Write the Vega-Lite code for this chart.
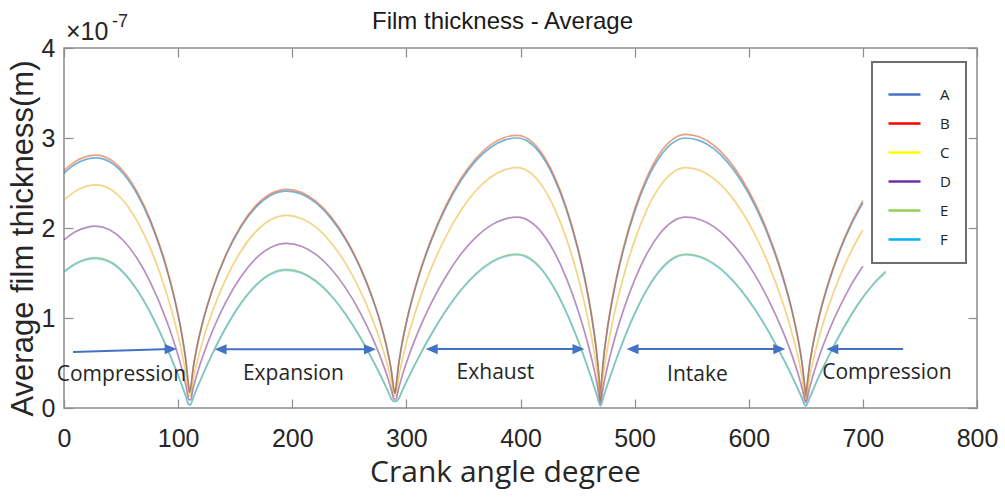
{
  "$schema": "https://vega.github.io/schema/vega-lite/v6.json",
  "width": 913,
  "height": 360,
  "autosize": {"type": "none"},
  "padding": {"left": 64, "top": 48, "right": 28, "bottom": 89},
  "background": "white",
  "config": {"view": {"stroke": "#8c8c8c", "strokeWidth": 1.5}},
  "title": {"text": "Film thickness - Average", "font": "Liberation Sans", "fontSize": 24, "fontWeight": "normal", "color": "#1a1a1a", "anchor": "middle", "frame": "group", "offset": 15, "dx": -18, "dy": 36},
  "datasets": {
    "curves": [
      {"a":0,"s":"A","v":2.611},{"a":10,"s":"A","v":2.711},{"a":20,"s":"A","v":2.766},{"a":28,"s":"A","v":2.78},{"a":40,"s":"A","v":2.736},{"a":52,"s":"A","v":2.603},{"a":64,"s":"A","v":2.379},{"a":76,"s":"A","v":2.059},{"a":90,"s":"A","v":1.541},{"a":98,"s":"A","v":1.145},{"a":104,"s":"A","v":0.758},{"a":107,"s":"A","v":0.5},{"a":109,"s":"A","v":0.259},{"a":110,"s":"A","v":0.17},{"a":111,"s":"A","v":0.22},{"a":113,"s":"A","v":0.425},{"a":116,"s":"A","v":0.643},{"a":122,"s":"A","v":0.972},{"a":130,"s":"A","v":1.308},{"a":142,"s":"A","v":1.697},{"a":155,"s":"A","v":2.01},{"a":168,"s":"A","v":2.229},{"a":181,"s":"A","v":2.362},{"a":195,"s":"A","v":2.41},{"a":208,"s":"A","v":2.377},{"a":221,"s":"A","v":2.276},{"a":234,"s":"A","v":2.107},{"a":247,"s":"A","v":1.866},{"a":260,"s":"A","v":1.544},{"a":270,"s":"A","v":1.227},{"a":278,"s":"A","v":0.91},{"a":284,"s":"A","v":0.602},{"a":287,"s":"A","v":0.397},{"a":289,"s":"A","v":0.206},{"a":290,"s":"A","v":0.16},{"a":291,"s":"A","v":0.239},{"a":293,"s":"A","v":0.461},{"a":296,"s":"A","v":0.698},{"a":302,"s":"A","v":1.055},{"a":310,"s":"A","v":1.426},{"a":322,"s":"A","v":1.865},{"a":335,"s":"A","v":2.238},{"a":348,"s":"A","v":2.529},{"a":361,"s":"A","v":2.748},{"a":374,"s":"A","v":2.897},{"a":386,"s":"A","v":2.977},{"a":397,"s":"A","v":3.0},{"a":408,"s":"A","v":2.95},{"a":419,"s":"A","v":2.798},{"a":430,"s":"A","v":2.541},{"a":440,"s":"A","v":2.212},{"a":450,"s":"A","v":1.775},{"a":458,"s":"A","v":1.322},{"a":464,"s":"A","v":0.877},{"a":467,"s":"A","v":0.579},{"a":469,"s":"A","v":0.3},{"a":470,"s":"A","v":0.1},{"a":471,"s":"A","v":0.295},{"a":473,"s":"A","v":0.57},{"a":476,"s":"A","v":0.863},{"a":482,"s":"A","v":1.302},{"a":490,"s":"A","v":1.748},{"a":500,"s":"A","v":2.181},{"a":511,"s":"A","v":2.539},{"a":522,"s":"A","v":2.79},{"a":533,"s":"A","v":2.943},{"a":545,"s":"A","v":3.0},{"a":557,"s":"A","v":2.971},{"a":569,"s":"A","v":2.884},{"a":581,"s":"A","v":2.738},{"a":593,"s":"A","v":2.531},{"a":605,"s":"A","v":2.26},{"a":617,"s":"A","v":1.917},{"a":630,"s":"A","v":1.441},{"a":638,"s":"A","v":1.067},{"a":644,"s":"A","v":0.706},{"a":647,"s":"A","v":0.466},{"a":649,"s":"A","v":0.241},{"a":650,"s":"A","v":0.12},{"a":651,"s":"A","v":0.233},{"a":653,"s":"A","v":0.45},{"a":656,"s":"A","v":0.681},{"a":662,"s":"A","v":1.03},{"a":670,"s":"A","v":1.39},{"a":680,"s":"A","v":1.75},{"a":690,"s":"A","v":2.042},{"a":700,"s":"A","v":2.28},
      {"a":0,"s":"B","v":2.64},{"a":10,"s":"B","v":2.74},{"a":20,"s":"B","v":2.796},{"a":28,"s":"B","v":2.81},{"a":40,"s":"B","v":2.765},{"a":52,"s":"B","v":2.631},{"a":64,"s":"B","v":2.405},{"a":76,"s":"B","v":2.081},{"a":90,"s":"B","v":1.557},{"a":98,"s":"B","v":1.157},{"a":104,"s":"B","v":0.766},{"a":107,"s":"B","v":0.506},{"a":109,"s":"B","v":0.262},{"a":110,"s":"B","v":0.18},{"a":111,"s":"B","v":0.222},{"a":113,"s":"B","v":0.428},{"a":116,"s":"B","v":0.649},{"a":122,"s":"B","v":0.98},{"a":130,"s":"B","v":1.319},{"a":142,"s":"B","v":1.711},{"a":155,"s":"B","v":2.027},{"a":168,"s":"B","v":2.248},{"a":181,"s":"B","v":2.381},{"a":195,"s":"B","v":2.43},{"a":208,"s":"B","v":2.396},{"a":221,"s":"B","v":2.295},{"a":234,"s":"B","v":2.124},{"a":247,"s":"B","v":1.881},{"a":260,"s":"B","v":1.556},{"a":270,"s":"B","v":1.237},{"a":278,"s":"B","v":0.917},{"a":284,"s":"B","v":0.607},{"a":287,"s":"B","v":0.401},{"a":289,"s":"B","v":0.207},{"a":290,"s":"B","v":0.17},{"a":291,"s":"B","v":0.241},{"a":293,"s":"B","v":0.465},{"a":296,"s":"B","v":0.705},{"a":302,"s":"B","v":1.066},{"a":310,"s":"B","v":1.44},{"a":322,"s":"B","v":1.883},{"a":335,"s":"B","v":2.26},{"a":348,"s":"B","v":2.555},{"a":361,"s":"B","v":2.775},{"a":374,"s":"B","v":2.926},{"a":386,"s":"B","v":3.006},{"a":397,"s":"B","v":3.03},{"a":408,"s":"B","v":2.979},{"a":419,"s":"B","v":2.825},{"a":430,"s":"B","v":2.566},{"a":440,"s":"B","v":2.234},{"a":450,"s":"B","v":1.793},{"a":458,"s":"B","v":1.336},{"a":464,"s":"B","v":0.885},{"a":467,"s":"B","v":0.585},{"a":469,"s":"B","v":0.303},{"a":470,"s":"B","v":0.11},{"a":471,"s":"B","v":0.299},{"a":473,"s":"B","v":0.578},{"a":476,"s":"B","v":0.874},{"a":482,"s":"B","v":1.319},{"a":490,"s":"B","v":1.772},{"a":500,"s":"B","v":2.21},{"a":511,"s":"B","v":2.572},{"a":522,"s":"B","v":2.828},{"a":533,"s":"B","v":2.982},{"a":545,"s":"B","v":3.04},{"a":557,"s":"B","v":3.011},{"a":569,"s":"B","v":2.922},{"a":581,"s":"B","v":2.774},{"a":593,"s":"B","v":2.564},{"a":605,"s":"B","v":2.29},{"a":617,"s":"B","v":1.942},{"a":630,"s":"B","v":1.46},{"a":638,"s":"B","v":1.081},{"a":644,"s":"B","v":0.715},{"a":647,"s":"B","v":0.472},{"a":649,"s":"B","v":0.244},{"a":650,"s":"B","v":0.13},{"a":651,"s":"B","v":0.235},{"a":653,"s":"B","v":0.455},{"a":656,"s":"B","v":0.689},{"a":662,"s":"B","v":1.041},{"a":670,"s":"B","v":1.405},{"a":680,"s":"B","v":1.769},{"a":690,"s":"B","v":2.064},{"a":700,"s":"B","v":2.304},
      {"a":0,"s":"C","v":2.31},{"a":10,"s":"C","v":2.41},{"a":20,"s":"C","v":2.466},{"a":28,"s":"C","v":2.48},{"a":40,"s":"C","v":2.435},{"a":52,"s":"C","v":2.302},{"a":64,"s":"C","v":2.079},{"a":76,"s":"C","v":1.765},{"a":90,"s":"C","v":1.27},{"a":98,"s":"C","v":0.907},{"a":104,"s":"C","v":0.569},{"a":107,"s":"C","v":0.355},{"a":109,"s":"C","v":0.168},{"a":110,"s":"C","v":0.13},{"a":111,"s":"C","v":0.142},{"a":113,"s":"C","v":0.299},{"a":116,"s":"C","v":0.479},{"a":122,"s":"C","v":0.764},{"a":130,"s":"C","v":1.071},{"a":142,"s":"C","v":1.438},{"a":155,"s":"C","v":1.742},{"a":168,"s":"C","v":1.959},{"a":181,"s":"C","v":2.091},{"a":195,"s":"C","v":2.14},{"a":208,"s":"C","v":2.106},{"a":221,"s":"C","v":2.006},{"a":234,"s":"C","v":1.837},{"a":247,"s":"C","v":1.601},{"a":260,"s":"C","v":1.291},{"a":270,"s":"C","v":0.996},{"a":278,"s":"C","v":0.709},{"a":284,"s":"C","v":0.444},{"a":287,"s":"C","v":0.278},{"a":289,"s":"C","v":0.131},{"a":290,"s":"C","v":0.13},{"a":291,"s":"C","v":0.151},{"a":293,"s":"C","v":0.319},{"a":296,"s":"C","v":0.511},{"a":302,"s":"C","v":0.817},{"a":310,"s":"C","v":1.149},{"a":322,"s":"C","v":1.558},{"a":335,"s":"C","v":1.915},{"a":348,"s":"C","v":2.2},{"a":361,"s":"C","v":2.417},{"a":374,"s":"C","v":2.566},{"a":386,"s":"C","v":2.646},{"a":397,"s":"C","v":2.67},{"a":408,"s":"C","v":2.619},{"a":419,"s":"C","v":2.467},{"a":430,"s":"C","v":2.212},{"a":440,"s":"C","v":1.89},{"a":450,"s":"C","v":1.473},{"a":458,"s":"C","v":1.055},{"a":464,"s":"C","v":0.662},{"a":467,"s":"C","v":0.414},{"a":469,"s":"C","v":0.196},{"a":470,"s":"C","v":0.07},{"a":471,"s":"C","v":0.193},{"a":473,"s":"C","v":0.407},{"a":476,"s":"C","v":0.65},{"a":482,"s":"C","v":1.036},{"a":490,"s":"C","v":1.448},{"a":500,"s":"C","v":1.86},{"a":511,"s":"C","v":2.209},{"a":522,"s":"C","v":2.46},{"a":533,"s":"C","v":2.613},{"a":545,"s":"C","v":2.67},{"a":557,"s":"C","v":2.641},{"a":569,"s":"C","v":2.553},{"a":581,"s":"C","v":2.407},{"a":593,"s":"C","v":2.202},{"a":605,"s":"C","v":1.937},{"a":617,"s":"C","v":1.607},{"a":630,"s":"C","v":1.163},{"a":638,"s":"C","v":0.827},{"a":644,"s":"C","v":0.518},{"a":647,"s":"C","v":0.324},{"a":649,"s":"C","v":0.153},{"a":650,"s":"C","v":0.08},{"a":651,"s":"C","v":0.149},{"a":653,"s":"C","v":0.315},{"a":656,"s":"C","v":0.504},{"a":662,"s":"C","v":0.805},{"a":670,"s":"C","v":1.131},{"a":680,"s":"C","v":1.468},{"a":690,"s":"C","v":1.748},{"a":700,"s":"C","v":1.981},
      {"a":0,"s":"D","v":1.868},{"a":10,"s":"D","v":1.957},{"a":20,"s":"D","v":2.007},{"a":28,"s":"D","v":2.02},{"a":40,"s":"D","v":1.98},{"a":52,"s":"D","v":1.861},{"a":64,"s":"D","v":1.663},{"a":76,"s":"D","v":1.388},{"a":90,"s":"D","v":0.966},{"a":98,"s":"D","v":0.666},{"a":104,"s":"D","v":0.398},{"a":107,"s":"D","v":0.237},{"a":109,"s":"D","v":0.104},{"a":110,"s":"D","v":0.09},{"a":111,"s":"D","v":0.092},{"a":113,"s":"D","v":0.209},{"a":116,"s":"D","v":0.351},{"a":122,"s":"D","v":0.588},{"a":130,"s":"D","v":0.853},{"a":142,"s":"D","v":1.181},{"a":155,"s":"D","v":1.459},{"a":168,"s":"D","v":1.66},{"a":181,"s":"D","v":1.784},{"a":195,"s":"D","v":1.83},{"a":208,"s":"D","v":1.798},{"a":221,"s":"D","v":1.704},{"a":234,"s":"D","v":1.547},{"a":247,"s":"D","v":1.329},{"a":260,"s":"D","v":1.049},{"a":270,"s":"D","v":0.787},{"a":278,"s":"D","v":0.541},{"a":284,"s":"D","v":0.323},{"a":287,"s":"D","v":0.192},{"a":289,"s":"D","v":0.1},{"a":290,"s":"D","v":0.1},{"a":291,"s":"D","v":0.1},{"a":293,"s":"D","v":0.204},{"a":296,"s":"D","v":0.343},{"a":302,"s":"D","v":0.574},{"a":310,"s":"D","v":0.837},{"a":322,"s":"D","v":1.17},{"a":335,"s":"D","v":1.47},{"a":348,"s":"D","v":1.713},{"a":361,"s":"D","v":1.899},{"a":374,"s":"D","v":2.029},{"a":386,"s":"D","v":2.099},{"a":397,"s":"D","v":2.12},{"a":408,"s":"D","v":2.075},{"a":419,"s":"D","v":1.943},{"a":430,"s":"D","v":1.723},{"a":440,"s":"D","v":1.448},{"a":450,"s":"D","v":1.1},{"a":458,"s":"D","v":0.762},{"a":464,"s":"D","v":0.456},{"a":467,"s":"D","v":0.271},{"a":469,"s":"D","v":0.119},{"a":470,"s":"D","v":0.05},{"a":471,"s":"D","v":0.117},{"a":473,"s":"D","v":0.266},{"a":476,"s":"D","v":0.446},{"a":482,"s":"D","v":0.747},{"a":490,"s":"D","v":1.08},{"a":500,"s":"D","v":1.423},{"a":511,"s":"D","v":1.721},{"a":522,"s":"D","v":1.936},{"a":533,"s":"D","v":2.07},{"a":545,"s":"D","v":2.12},{"a":557,"s":"D","v":2.094},{"a":569,"s":"D","v":2.018},{"a":581,"s":"D","v":1.891},{"a":593,"s":"D","v":1.714},{"a":605,"s":"D","v":1.488},{"a":617,"s":"D","v":1.211},{"a":630,"s":"D","v":0.848},{"a":638,"s":"D","v":0.582},{"a":644,"s":"D","v":0.347},{"a":647,"s":"D","v":0.207},{"a":649,"s":"D","v":0.091},{"a":650,"s":"D","v":0.06},{"a":651,"s":"D","v":0.091},{"a":653,"s":"D","v":0.207},{"a":656,"s":"D","v":0.348},{"a":662,"s":"D","v":0.584},{"a":670,"s":"D","v":0.85},{"a":680,"s":"D","v":1.133},{"a":690,"s":"D","v":1.374},{"a":700,"s":"D","v":1.576},
      {"a":0,"s":"E","v":1.517},{"a":10,"s":"E","v":1.606},{"a":20,"s":"E","v":1.657},{"a":28,"s":"E","v":1.67},{"a":40,"s":"E","v":1.63},{"a":52,"s":"E","v":1.51},{"a":64,"s":"E","v":1.315},{"a":76,"s":"E","v":1.054},{"a":90,"s":"E","v":0.676},{"a":98,"s":"E","v":0.428},{"a":104,"s":"E","v":0.228},{"a":107,"s":"E","v":0.12},{"a":109,"s":"E","v":0.044},{"a":110,"s":"E","v":0.04},{"a":111,"s":"E","v":0.04},{"a":113,"s":"E","v":0.107},{"a":116,"s":"E","v":0.203},{"a":122,"s":"E","v":0.383},{"a":130,"s":"E","v":0.604},{"a":142,"s":"E","v":0.9},{"a":155,"s":"E","v":1.166},{"a":168,"s":"E","v":1.366},{"a":181,"s":"E","v":1.493},{"a":195,"s":"E","v":1.54},{"a":208,"s":"E","v":1.507},{"a":221,"s":"E","v":1.411},{"a":234,"s":"E","v":1.253},{"a":247,"s":"E","v":1.04},{"a":260,"s":"E","v":0.778},{"a":270,"s":"E","v":0.547},{"a":278,"s":"E","v":0.346},{"a":284,"s":"E","v":0.183},{"a":287,"s":"E","v":0.097},{"a":289,"s":"E","v":0.08},{"a":290,"s":"E","v":0.08},{"a":291,"s":"E","v":0.08},{"a":293,"s":"E","v":0.097},{"a":296,"s":"E","v":0.183},{"a":302,"s":"E","v":0.344},{"a":310,"s":"E","v":0.547},{"a":322,"s":"E","v":0.825},{"a":335,"s":"E","v":1.091},{"a":348,"s":"E","v":1.316},{"a":361,"s":"E","v":1.494},{"a":374,"s":"E","v":1.621},{"a":386,"s":"E","v":1.689},{"a":397,"s":"E","v":1.71},{"a":408,"s":"E","v":1.666},{"a":419,"s":"E","v":1.536},{"a":430,"s":"E","v":1.325},{"a":440,"s":"E","v":1.071},{"a":450,"s":"E","v":0.765},{"a":458,"s":"E","v":0.487},{"a":464,"s":"E","v":0.259},{"a":467,"s":"E","v":0.137},{"a":469,"s":"E","v":0.05},{"a":470,"s":"E","v":0.03},{"a":471,"s":"E","v":0.049},{"a":473,"s":"E","v":0.134},{"a":476,"s":"E","v":0.253},{"a":482,"s":"E","v":0.475},{"a":490,"s":"E","v":0.747},{"a":500,"s":"E","v":1.049},{"a":511,"s":"E","v":1.324},{"a":522,"s":"E","v":1.53},{"a":533,"s":"E","v":1.661},{"a":545,"s":"E","v":1.71},{"a":557,"s":"E","v":1.685},{"a":569,"s":"E","v":1.61},{"a":581,"s":"E","v":1.486},{"a":593,"s":"E","v":1.317},{"a":605,"s":"E","v":1.107},{"a":617,"s":"E","v":0.86},{"a":630,"s":"E","v":0.556},{"a":638,"s":"E","v":0.351},{"a":644,"s":"E","v":0.186},{"a":647,"s":"E","v":0.098},{"a":649,"s":"E","v":0.036},{"a":650,"s":"E","v":0.03},{"a":651,"s":"E","v":0.037},{"a":653,"s":"E","v":0.102},{"a":656,"s":"E","v":0.193},{"a":662,"s":"E","v":0.365},{"a":670,"s":"E","v":0.577},{"a":680,"s":"E","v":0.821},{"a":690,"s":"E","v":1.041},{"a":700,"s":"E","v":1.232},{"a":710,"s":"E","v":1.392},{"a":720,"s":"E","v":1.517},
      {"a":0,"s":"F","v":1.508},{"a":10,"s":"F","v":1.597},{"a":20,"s":"F","v":1.648},{"a":28,"s":"F","v":1.66},{"a":40,"s":"F","v":1.62},{"a":52,"s":"F","v":1.501},{"a":64,"s":"F","v":1.308},{"a":76,"s":"F","v":1.047},{"a":90,"s":"F","v":0.671},{"a":98,"s":"F","v":0.426},{"a":104,"s":"F","v":0.226},{"a":107,"s":"F","v":0.12},{"a":109,"s":"F","v":0.044},{"a":110,"s":"F","v":0.03},{"a":111,"s":"F","v":0.039},{"a":113,"s":"F","v":0.107},{"a":116,"s":"F","v":0.202},{"a":122,"s":"F","v":0.38},{"a":130,"s":"F","v":0.6},{"a":142,"s":"F","v":0.894},{"a":155,"s":"F","v":1.158},{"a":168,"s":"F","v":1.358},{"a":181,"s":"F","v":1.483},{"a":195,"s":"F","v":1.53},{"a":208,"s":"F","v":1.498},{"a":221,"s":"F","v":1.401},{"a":234,"s":"F","v":1.245},{"a":247,"s":"F","v":1.033},{"a":260,"s":"F","v":0.773},{"a":270,"s":"F","v":0.544},{"a":278,"s":"F","v":0.343},{"a":284,"s":"F","v":0.182},{"a":287,"s":"F","v":0.097},{"a":289,"s":"F","v":0.07},{"a":290,"s":"F","v":0.07},{"a":291,"s":"F","v":0.07},{"a":293,"s":"F","v":0.096},{"a":296,"s":"F","v":0.182},{"a":302,"s":"F","v":0.342},{"a":310,"s":"F","v":0.543},{"a":322,"s":"F","v":0.82},{"a":335,"s":"F","v":1.085},{"a":348,"s":"F","v":1.308},{"a":361,"s":"F","v":1.486},{"a":374,"s":"F","v":1.611},{"a":386,"s":"F","v":1.68},{"a":397,"s":"F","v":1.7},{"a":408,"s":"F","v":1.656},{"a":419,"s":"F","v":1.527},{"a":430,"s":"F","v":1.318},{"a":440,"s":"F","v":1.065},{"a":450,"s":"F","v":0.761},{"a":458,"s":"F","v":0.484},{"a":464,"s":"F","v":0.258},{"a":467,"s":"F","v":0.137},{"a":469,"s":"F","v":0.05},{"a":470,"s":"F","v":0.02},{"a":471,"s":"F","v":0.048},{"a":473,"s":"F","v":0.133},{"a":476,"s":"F","v":0.252},{"a":482,"s":"F","v":0.473},{"a":490,"s":"F","v":0.743},{"a":500,"s":"F","v":1.043},{"a":511,"s":"F","v":1.316},{"a":522,"s":"F","v":1.521},{"a":533,"s":"F","v":1.651},{"a":545,"s":"F","v":1.7},{"a":557,"s":"F","v":1.675},{"a":569,"s":"F","v":1.6},{"a":581,"s":"F","v":1.477},{"a":593,"s":"F","v":1.31},{"a":605,"s":"F","v":1.101},{"a":617,"s":"F","v":0.855},{"a":630,"s":"F","v":0.552},{"a":638,"s":"F","v":0.349},{"a":644,"s":"F","v":0.185},{"a":647,"s":"F","v":0.098},{"a":649,"s":"F","v":0.036},{"a":650,"s":"F","v":0.02},{"a":651,"s":"F","v":0.037},{"a":653,"s":"F","v":0.102},{"a":656,"s":"F","v":0.192},{"a":662,"s":"F","v":0.362},{"a":670,"s":"F","v":0.574},{"a":680,"s":"F","v":0.817},{"a":690,"s":"F","v":1.034},{"a":700,"s":"F","v":1.225},{"a":710,"s":"F","v":1.383},{"a":720,"s":"F","v":1.508}
    ],
    "arrows": [
      {"x":7.9,"y":0.622,"x2":93.5,"y2":0.655},
      {"x":137.2,"y":0.652,"x2":268.1,"y2":0.652},
      {"x":322.2,"y":0.655,"x2":450.8,"y2":0.655},
      {"x":498.2,"y":0.655,"x2":626.8,"y2":0.655},
      {"x":673.2,"y":0.655,"x2":735.3,"y2":0.655}
    ],
    "heads": [
      {"x":93.5,"y":0.655,"dir":"right"},
      {"x":137.2,"y":0.652,"dir":"left"},
      {"x":268.1,"y":0.652,"dir":"right"},
      {"x":322.2,"y":0.655,"dir":"left"},
      {"x":450.8,"y":0.655,"dir":"right"},
      {"x":498.2,"y":0.655,"dir":"left"},
      {"x":626.8,"y":0.655,"dir":"right"},
      {"x":673.2,"y":0.655,"dir":"left"}
    ],
    "strokes": [
      {"x":50.3,"y":0.30,"t":"Compression"},
      {"x":201,"y":0.31,"t":"Expansion"},
      {"x":378,"y":0.32,"t":"Exhaust"},
      {"x":555,"y":0.30,"t":"Intake"},
      {"x":721,"y":0.32,"t":"Compression"}
    ]
  },
  "layer": [
    {
      "data": {"name": "curves"},
      "mark": {"type": "line", "interpolate": "monotone", "strokeWidth": 1.7, "strokeOpacity": 0.55},
      "encoding": {
        "x": {"field": "a", "type": "quantitative", "scale": {"domain": [0, 800], "nice": false},
          "axis": {"orient": "bottom", "values": [0,100,200,300,400,500,600,700,800], "domain": false, "grid": false, "tickSize": -9, "tickColor": "#8c8c8c", "tickWidth": 1.2, "labelFont": "Liberation Sans", "labelFontSize": 25, "labelColor": "#262626", "labelPadding": 27, "labelFlush": false, "labelOverlap": false,
            "title": "Crank angle degree", "titleFont": "Open Sans", "titleFontSize": 30, "titleFontWeight": "normal", "titleColor": "#262626", "titleX": 441, "titleY": 73, "titleAlign": "center", "titleBaseline": "alphabetic"}},
        "y": {"field": "v", "type": "quantitative", "scale": {"domain": [0, 4], "nice": false},
          "axis": {"orient": "left", "values": [0,1,2,3,4], "domain": false, "grid": false, "tickSize": -9, "tickColor": "#8c8c8c", "tickWidth": 1.2, "labelFont": "Liberation Sans", "labelFontSize": 25, "labelColor": "#262626", "labelPadding": 18, "labelFlush": false,
            "title": "Average film thickness(m)", "titleFont": "Liberation Sans", "titleFontSize": 31, "titleFontWeight": "normal", "titleColor": "#262626", "titleX": -32, "titleY": 190, "titleAngle": 270, "titleAlign": "center", "titleBaseline": "alphabetic"}},
        "color": {"field": "s", "type": "nominal",
          "scale": {"domain": ["A","B","C","D","E","F"], "range": ["#0072BD","#D95319","#EDB120","#7E2F8E","#77AC30","#4DBEEE"]},
          "legend": null}
      }
    },
    {
      "data": {"name": "curves"},
      "mark": {"type": "line", "strokeOpacity": 0, "strokeWidth": 1},
      "encoding": {
        "x": {"field": "a", "type": "quantitative", "axis": null},
        "y": {"field": "v", "type": "quantitative", "axis": null},
        "color": {"field": "s", "type": "nominal",
          "scale": {"domain": ["A","B","C","D","E","F"], "range": ["#4472C4","#FF0000","#FFFF00","#7030A0","#92D050","#00B0F0"]},
          "legend": {"orient": "none", "legendX": 808, "legendY": 14, "title": null, "symbolType": "stroke", "symbolSize": 1024, "symbolStrokeWidth": 2.5, "symbolOpacity": 1, "labelFont": "Open Sans", "labelFontSize": 15, "labelColor": "#222222", "labelOffset": 18, "padding": 15, "rowPadding": 3, "strokeColor": "#6e6e6e", "fillColor": "white",
            "encode": {
              "symbols": {"update": {"strokeOpacity": {"value": 1}, "opacity": {"value": 1}}},
              "legend": {"update": {"strokeWidth": {"value": 2}}}
            }}}
      }
    },
    {
      "data": {"name": "arrows"},
      "mark": {"type": "rule", "color": "#4472C4", "strokeWidth": 2},
      "encoding": {
        "x": {"field": "x", "type": "quantitative", "scale": {"domain": [0, 800], "nice": false},
          "axis": {"orient": "top", "values": [0,100,200,300,400,500,600,700,800], "domain": false, "grid": false, "labels": false, "title": null, "tickSize": -9, "tickColor": "#8c8c8c", "tickWidth": 1.2}},
        "x2": {"field": "x2"},
        "y": {"field": "y", "type": "quantitative", "scale": {"domain": [0, 4], "nice": false},
          "axis": {"orient": "right", "values": [0,1,2,3,4], "domain": false, "grid": false, "labels": false, "title": null, "tickSize": -9, "tickColor": "#8c8c8c", "tickWidth": 1.2}},
        "y2": {"field": "y2"}
      }
    },
    {
      "data": {"name": "heads"},
      "mark": {"type": "point", "filled": true, "color": "#4472C4", "opacity": 1, "size": 144, "strokeWidth": 0},
      "encoding": {
        "x": {"field": "x", "type": "quantitative", "axis": null},
        "y": {"field": "y", "type": "quantitative", "axis": null},
        "shape": {"field": "dir", "type": "nominal", "scale": {"domain": ["right","left"], "range": ["M-1,-0.85L1,0L-1,0.85Z","M1,-0.85L-1,0L1,0.85Z"]}, "legend": null}
      }
    },
    {
      "data": {"name": "strokes"},
      "mark": {"type": "text", "font": "Open Sans", "fontSize": 21, "color": "#262626", "align": "center", "baseline": "alphabetic"},
      "encoding": {
        "x": {"field": "x", "type": "quantitative", "axis": null},
        "y": {"field": "y", "type": "quantitative", "axis": null},
        "text": {"field": "t"}
      }
    },
    {
      "data": {"values": [{"x": 0, "y": 4, "t": "×10"}]},
      "mark": {"type": "text", "font": "Liberation Sans", "fontSize": 25, "color": "#262626", "align": "left", "baseline": "alphabetic", "dx": 2, "dy": -8},
      "encoding": {
        "x": {"field": "x", "type": "quantitative", "axis": null},
        "y": {"field": "y", "type": "quantitative", "axis": null},
        "text": {"field": "t"}
      }
    },
    {
      "data": {"values": [{"x": 0, "y": 4, "t": "-7"}]},
      "mark": {"type": "text", "font": "Liberation Sans", "fontSize": 18, "color": "#262626", "align": "left", "baseline": "alphabetic", "dx": 48, "dy": -21},
      "encoding": {
        "x": {"field": "x", "type": "quantitative", "axis": null},
        "y": {"field": "y", "type": "quantitative", "axis": null},
        "text": {"field": "t"}
      }
    }
  ],
  "resolve": {"axis": {"x": "independent", "y": "independent"}, "scale": {"color": "independent"}, "legend": {"color": "independent"}}
}
